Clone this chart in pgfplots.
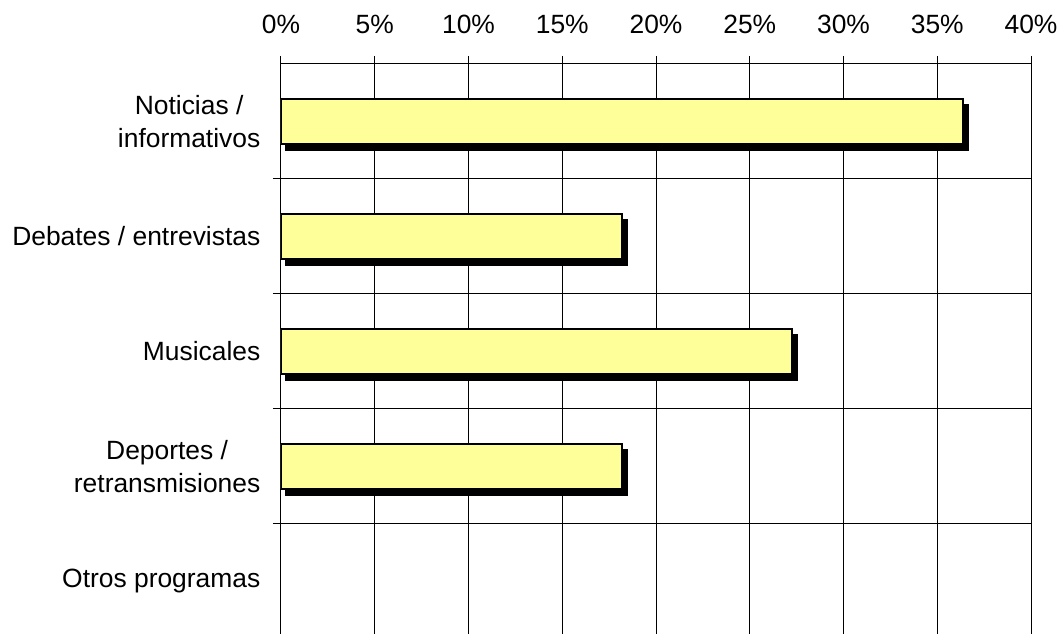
\documentclass[border=0pt]{standalone}
\usepackage{pgfplots}
\pgfplotsset{compat=1.18}
\usepackage{fontspec}
\setmainfont{Liberation Sans}

\definecolor{barfill}{HTML}{FFFF99}

\begin{document}
\begin{tikzpicture}
% page size fixed to the reference's 1063x634 px (1 px = 0.75pt)
\useasboundingbox (-210.75pt,3.75pt) rectangle (586.5pt,479.25pt);
\begin{axis}[
    at={(0,0)}, anchor=south west,
    scale only axis,
    width=562.5pt, height=431.25pt,
    xmin=0, xmax=40,
    ymin=-0.5, ymax=4.5,
    axis x line*=top,
    axis y line*=left,
    axis line style={black, line width=0.75pt},
    xtick={0,5,10,15,20,25,30,35,40},
    xticklabels={0\%,5\%,10\%,15\%,20\%,25\%,30\%,35\%,40\%},
    ytick={0.5,1.5,2.5,3.5},
    yticklabels={},
    extra y ticks={0,1,2,3,4},
    extra y tick labels={Otros programas,Deportes /\\retransmisiones,Musicales,Debates / entrevistas,Noticias /\\informativos},
    extra y tick style={major tick length=0pt, grid=none},
    xmajorgrids, ymajorgrids,
    grid style={black, line width=0.75pt},
    tick align=outside,
    major tick length=6pt,
    tick style={black, line width=0.75pt},
    ticklabel style={font=\fontsize{19.8}{24.5}\selectfont},
    yticklabel style={align=center, xshift=-12pt},
    xticklabel style={yshift=13pt},
    xbar, bar width=33.75pt, bar shift=0pt,
]
% shadow
\addplot[fill=black, draw=black, line width=1.5pt, xshift=3.75pt, yshift=-4.5pt]
    coordinates {(36.36,4) (18.18,3) (27.27,2) (18.18,1)};
% bars
\addplot[fill=barfill, draw=black, line width=1.5pt]
    coordinates {(36.36,4) (18.18,3) (27.27,2) (18.18,1)};
\end{axis}
\end{tikzpicture}
\end{document}
